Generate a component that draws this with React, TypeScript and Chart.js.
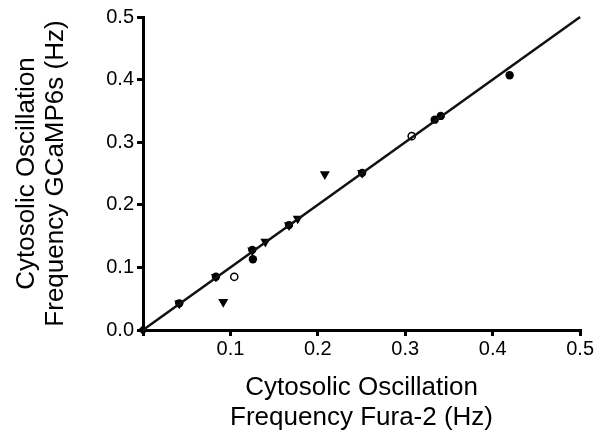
import React, { useEffect, useRef } from 'react';
import { Chart, registerables } from 'chart.js';

Chart.register(...registerables);

// Filled circles
const closedX = [0.0415, 0.0834, 0.125, 0.1257, 0.167, 0.2507, 0.3337, 0.3406, 0.4194];
const closedY = [0.0426, 0.085, 0.128, 0.113, 0.1676, 0.251, 0.336, 0.342, 0.407];

// Open circles
const openX = [0.1044, 0.3074];
const openY = [0.085, 0.3096];

// Filled down-triangles
const triX = [0.0415, 0.0834, 0.0918, 0.125, 0.14, 0.167, 0.177, 0.208, 0.2507];
const triY = [0.0426, 0.085, 0.045, 0.127, 0.141, 0.1676, 0.178, 0.249, 0.251];

// Origin point
const originX = [0];
const originY = [0];

// Line of identity
const fitX = [0, 0.5];
const fitY = [0, 0.5];

const xTicks = [0, 0.1, 0.2, 0.3, 0.4, 0.5];
const yTicks = [0, 0.1, 0.2, 0.3, 0.4, 0.5];

const xTitle = ['Cytosolic Oscillation', 'Frequency Fura-2 (Hz)'];
const yTitle = ['Cytosolic Oscillation', 'Frequency GCaMP6s (Hz)'];

const FONT = '"Liberation Sans", Arial, Helvetica, sans-serif';

const pts = (xs: number[], ys: number[]) => xs.map((x, i) => ({ x, y: ys[i] }));

export default function App() {
  const ref = useRef<HTMLCanvasElement | null>(null);

  useEffect(() => {
    document.body.style.margin = '0';
    if (!ref.current) return;
    const chart = new Chart(ref.current, {
      type: 'scatter',
      data: {
        datasets: [
          {
            type: 'line',
            label: 'Identity',
            data: pts(fitX, fitY),
            borderColor: '#111',
            borderWidth: 2.5,
            pointRadius: 0,
            fill: false,
            clip: false,
          } as any,
          {
            label: 'Filled circles',
            data: pts(closedX, closedY),
            pointStyle: 'circle',
            pointRadius: 4.2,
            backgroundColor: '#000',
            borderColor: '#000',
            borderWidth: 0,
            clip: false,
          } as any,
          {
            label: 'Open circles',
            data: pts(openX, openY),
            pointStyle: 'circle',
            pointRadius: 3.6,
            backgroundColor: '#fff',
            borderColor: '#000',
            borderWidth: 1.5,
            clip: false,
          } as any,
          {
            label: 'Triangles',
            data: pts(triX, triY),
            pointStyle: 'triangle',
            rotation: 180,
            pointRadius: 5.8,
            backgroundColor: '#000',
            borderColor: '#000',
            borderWidth: 0,
            clip: false,
          } as any,
          {
            label: 'Origin',
            data: pts(originX, originY),
            pointStyle: 'rectRot',
            pointRadius: 5,
            backgroundColor: '#000',
            borderColor: '#000',
            borderWidth: 0,
            clip: false,
          } as any,
        ],
      },
      options: {
        responsive: false,
        animation: false,
        devicePixelRatio: 1,
        events: [],
        layout: { padding: { top: 17, right: 14, bottom: 0, left: 0 } },
        plugins: { legend: { display: false }, tooltip: { enabled: false } },
        scales: {
          x: {
            type: 'linear',
            position: 'bottom',
            min: 0,
            max: 0.5,
            afterBuildTicks: (s: any) => {
              s.ticks = xTicks.map((v) => ({ value: v }));
            },
            afterFit: (s: any) => {
              s.height = 110;
            },
            border: { display: true, color: '#000', width: 3 },
            grid: { drawOnChartArea: false, drawTicks: true, tickLength: 6, color: '#000', lineWidth: 3 },
            ticks: {
              color: '#000',
              autoSkip: false,
              maxRotation: 0,
              padding: 1,
              font: { family: FONT, size: 20 },
              callback: (v: any) => (Number(v) === 0 ? '' : Number(v).toFixed(1)),
            },
            title: {
              display: true,
              text: xTitle,
              color: '#000',
              font: { family: FONT, size: 26, lineHeight: 1.12 },
              padding: { top: 0, bottom: 8 },
            },
          },
          y: {
            type: 'linear',
            position: 'left',
            min: 0,
            max: 0.5,
            afterBuildTicks: (s: any) => {
              s.ticks = yTicks.map((v) => ({ value: v }));
            },
            afterFit: (s: any) => {
              s.width = 143;
            },
            border: { display: true, color: '#000', width: 3 },
            grid: { drawOnChartArea: false, drawTicks: true, tickLength: 6, color: '#000', lineWidth: 3 },
            ticks: {
              color: '#000',
              autoSkip: false,
              padding: 3,
              font: { family: FONT, size: 20 },
              callback: (v: any) => Number(v).toFixed(1),
            },
            title: {
              display: true,
              text: yTitle,
              color: '#000',
              font: { family: FONT, size: 26, lineHeight: 1.12 },
              padding: { top: 12, bottom: 0 },
            },
          },
        },
      },
    });
    return () => chart.destroy();
  }, []);

  return (
    <div style={{ width: 595, height: 440, position: 'relative' }}>
      <canvas ref={ref} width={595} height={440} style={{ display: 'block' }} />
    </div>
  );
}
